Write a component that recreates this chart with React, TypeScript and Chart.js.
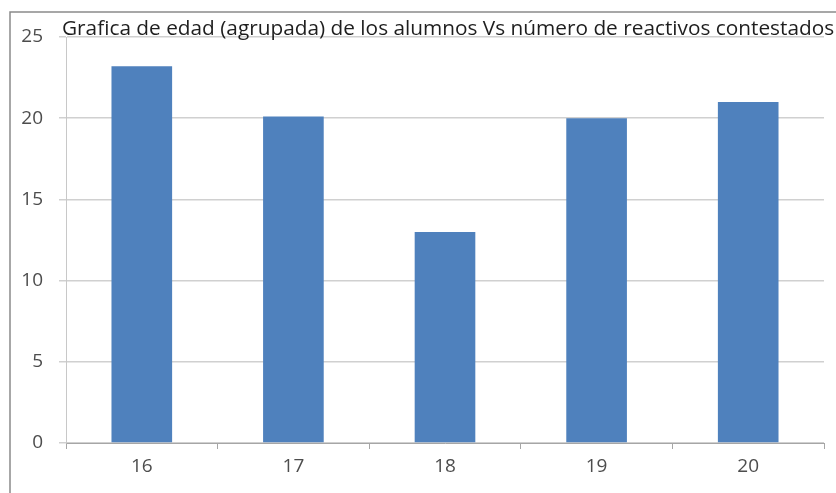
import React, { useEffect, useRef } from "react";
import { Chart, registerables } from "chart.js";

Chart.register(...registerables);

const ages = ["16", "17", "18", "19", "20"];
const answered = [23.2, 20.1, 13, 20, 21];
const yTicks = [0, 5, 10, 15, 20, 25];
const titleText =
  "Grafica de edad (agrupada) de los alumnos Vs número de reactivos contestados";

const FONT = "'Open Sans', 'Liberation Sans', sans-serif";

// Outer frame (top and left edges) plus the title laid over the top of the plot
const framePlugin = {
  id: "frameAndTitle",
  beforeDraw(chart: any) {
    const ctx = chart.ctx;
    ctx.save();
    ctx.strokeStyle = "#8a8a8a";
    ctx.lineWidth = 1.5;
    ctx.beginPath();
    ctx.moveTo(10, chart.height);
    ctx.lineTo(10, 12);
    ctx.lineTo(chart.width, 12);
    ctx.stroke();
    ctx.restore();
  },
  afterDraw(chart: any) {
    const ctx = chart.ctx;
    const area = chart.chartArea;
    ctx.save();
    ctx.fillStyle = "#1e1e1e";
    ctx.font = `20.8px ${FONT}`;
    ctx.textAlign = "left";
    ctx.textBaseline = "alphabetic";
    ctx.fillText(titleText, area.left - 4, area.top - 2);
    ctx.restore();
  },
};

export default function App() {
  const ref = useRef<HTMLCanvasElement>(null);

  useEffect(() => {
    if (!ref.current) return;
    const chart = new Chart(ref.current, {
      type: "bar",
      data: {
        labels: ages,
        datasets: [
          {
            data: answered,
            backgroundColor: "#4F81BD",
            barPercentage: 0.4,
            categoryPercentage: 1,
          },
        ],
      },
      options: {
        responsive: false,
        animation: false,
        layout: { padding: { top: 37, right: 12, bottom: 0, left: 0 } },
        plugins: {
          legend: { display: false },
          tooltip: { enabled: false },
          title: { display: false },
        },
        scales: {
          x: {
            offset: true,
            afterFit: (s: any) => {
              s.height = 50;
            },
            grid: {
              offset: true,
              drawOnChartArea: false,
              drawTicks: true,
              tickLength: 6,
              color: "#a6a6a6",
            },
            border: { color: "#a6a6a6", width: 1 },
            ticks: {
              color: "#4d4d4d",
              font: { family: FONT, size: 19 },
              padding: 6,
            },
          },
          y: {
            min: 0,
            max: 25,
            afterFit: (s: any) => {
              s.width = 66;
            },
            afterBuildTicks: (s: any) => {
              s.ticks = yTicks.map((v) => ({ value: v }));
            },
            grid: {
              color: "#d0d0d0",
              tickLength: 7,
              lineWidth: 1.5,
            },
            border: { color: "#c8c8c8", width: 1 },
            ticks: {
              color: "#4d4d4d",
              font: { family: FONT, size: 19 },
              padding: 16,
            },
          },
        },
      },
      plugins: [framePlugin],
    });
    return () => chart.destroy();
  }, []);

  return (
    <div style={{ position: "absolute", left: 0, top: 0, width: 836, height: 493, background: "#fff" }}>
      <canvas ref={ref} width={836} height={493} style={{ display: "block" }} />
    </div>
  );
}
